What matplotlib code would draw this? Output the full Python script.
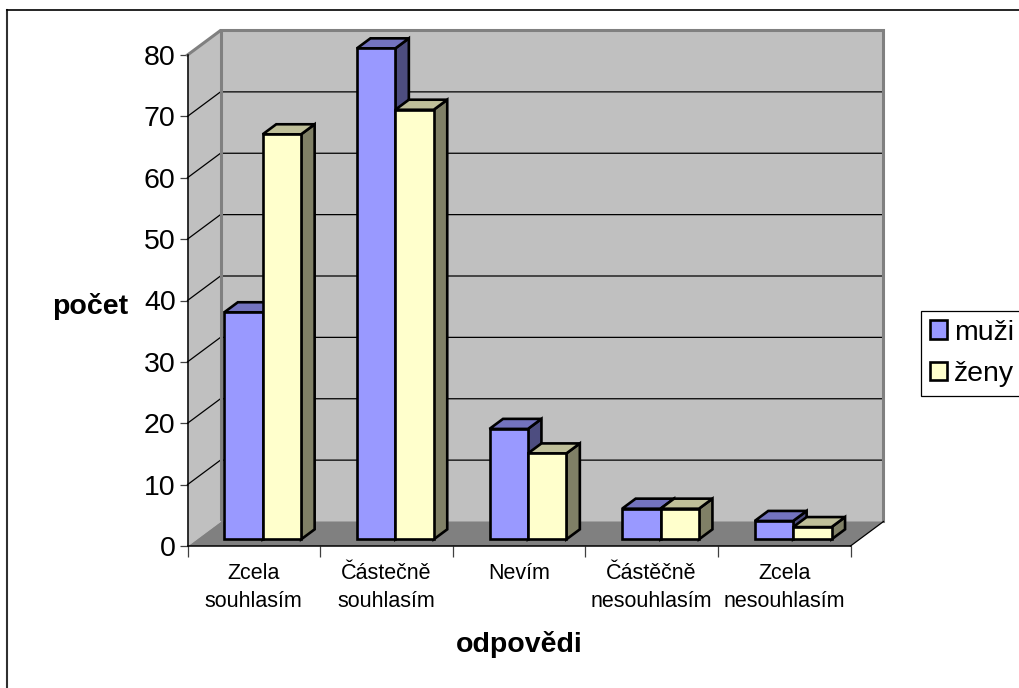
import matplotlib
matplotlib.use("Agg")
import matplotlib.pyplot as plt
from matplotlib.patches import Polygon, Patch
from matplotlib.lines import Line2D

categories = ["Zcela\nsouhlasím", "Částečně\nsouhlasím", "Nevím", "Částěčně\nnesouhlasím", "Zcela\nnesouhlasím"]
muzi = [37, 80, 18, 5, 3]
zeny = [66, 70, 14, 5, 2]
y_ticks = [0, 10, 20, 30, 40, 50, 60, 70, 80]

W, H = 1020, 688
plt.rcParams["font.family"] = ["Liberation Sans", "DejaVu Sans"]
fig = plt.figure(figsize=(W / 100, H / 100), dpi=100, facecolor="white")

L, R, T, B = 187.5, 850.5, 55.0, 546.0
ax = fig.add_axes([L / W, 1 - B / H, (R - L) / W, (B - T) / H])
ax.set_xlim(0, 5)
ax.set_ylim(0, 80)
ax.patch.set_visible(False)

DX, DY = 33.0, 24.5
kx = DX / ((R - L) / 5)
ky = DY / ((B - T) / 80)


def proj(x, y, d):
    return (x + kx * d, y + ky * d)


def poly(pts, fc, ec, lw, z):
    ax.add_patch(Polygon([proj(*p) for p in pts], closed=True, facecolor=fc, edgecolor=ec,
                         linewidth=lw, zorder=z, clip_on=False, joinstyle="miter"))


WALL = "#C0C0C0"
EDGE = "#808080"
# walls and floor
poly([(0, 0, 0), (0, 0, 1), (0, 80, 1), (0, 80, 0)], WALL, "none", 0, 1)
poly([(0, 0, 1), (5, 0, 1), (5, 80, 1), (0, 80, 1)], WALL, "none", 0, 1)
poly([(0, 0, 0), (5, 0, 0), (5, 0, 1), (0, 0, 1)], "#808080", "none", 0, 1)

# gridlines
for v in y_ticks[1:-1]:
    pts = [proj(0, v, 0), proj(0, v, 1), proj(5, v, 1)]
    ax.plot(*zip(*pts), color="black", lw=0.9, zorder=2, clip_on=False)

# wall borders
for pts in ([(0, 80, 0), (0, 80, 1), (5, 80, 1), (5, 0, 1)], [(0, 80, 1), (0, 0, 1)]):
    pp = [proj(*p) for p in pts]
    ax.plot(*zip(*pp), color=EDGE, lw=2.2, zorder=3, clip_on=False, solid_joinstyle="miter")
pp = [proj(0, 0, 0), proj(0, 0, 1)]
ax.plot(*zip(*pp), color=WALL, lw=0.8, zorder=3, clip_on=False)
pp = [proj(5, 0, 0), proj(5, 0, 1)]
ax.plot(*zip(*pp), color="black", lw=0.9, zorder=3, clip_on=False)

# bars
BW = 38.4 / ((R - L) / 5)
D0, D1 = 0.27, 0.68
series = [
    (muzi, -1, "#9999FF", "#7373BF", "#4D4D80"),
    (zeny, 0, "#FFFFCC", "#BFBF99", "#808066"),
]
z = 5
for i in range(len(categories)):
    for vals, off, front, top, side in series:
        x0 = i + 0.5 + off * BW
        x1 = x0 + BW
        v = vals[i]
        poly([(x1, 0, D0), (x1, 0, D1), (x1, v, D1), (x1, v, D0)], side, "black", 1.9, z)
        poly([(x0, v, D0), (x1, v, D0), (x1, v, D1), (x0, v, D1)], top, "black", 1.9, z)
        poly([(x0, 0, D0), (x1, 0, D0), (x1, v, D0), (x0, v, D0)], front, "black", 1.9, z)
        z += 1

# axes
for s in ("top", "right"):
    ax.spines[s].set_visible(False)
for s in ("left", "bottom"):
    ax.spines[s].set_color("black")
    ax.spines[s].set_linewidth(1.1)
    ax.spines[s].set_zorder(4)

ax.set_yticks(y_ticks)
ax.tick_params(axis="y", length=6, width=0.9, color="#404040", labelsize=20.5, pad=2.5)
ax.set_xticks(range(6))
ax.set_xticklabels([""] * 6)
ax.set_xticks([i + 0.5 for i in range(5)], minor=True)
ax.set_xticklabels(categories, minor=True, fontsize=15.5, linespacing=1.42)
ax.tick_params(axis="x", which="major", length=8, width=0.9, color="#404040")
ax.tick_params(axis="x", which="minor", length=0, pad=12.5)

ax.set_ylabel("počet", rotation=0, fontsize=20.5, fontweight="bold", ha="center", va="center")
ax.yaxis.set_label_coords((90 - L) / (R - L), (B - 307) / (B - T))
ax.set_xlabel("odpovědi", fontsize=20.5, fontweight="bold", ha="center", va="center")
ax.xaxis.set_label_coords((519 - L) / (R - L), (B - 645) / (B - T))

# legend
handles = [Patch(facecolor="#9999FF", edgecolor="black", linewidth=1.9),
           Patch(facecolor="#FFFFCC", edgecolor="black", linewidth=1.9)]
leg = fig.legend(handles, ["muži", "ženy"], loc="upper left",
                 bbox_to_anchor=(921 / W, 1 - 311 / H), borderaxespad=0,
                 frameon=True, fancybox=False, edgecolor="black", facecolor="white",
                 framealpha=1, fontsize=20.5, handlelength=0.62, handleheight=0.62,
                 handletextpad=0.25, labelspacing=0.55, borderpad=0.3)
leg.get_frame().set_linewidth(0.9)

# chart-area frame (only the visible edges)
fig.add_artist(Line2D([7.5 / W, 7.5 / W], [0, 1 - 9.5 / H], color="#303030", lw=1.5, transform=fig.transFigure))
fig.add_artist(Line2D([7 / W, 1], [1 - 9.5 / H, 1 - 9.5 / H], color="black", lw=1.2, transform=fig.transFigure))

fig.savefig("out.png", dpi=100, facecolor="white")
